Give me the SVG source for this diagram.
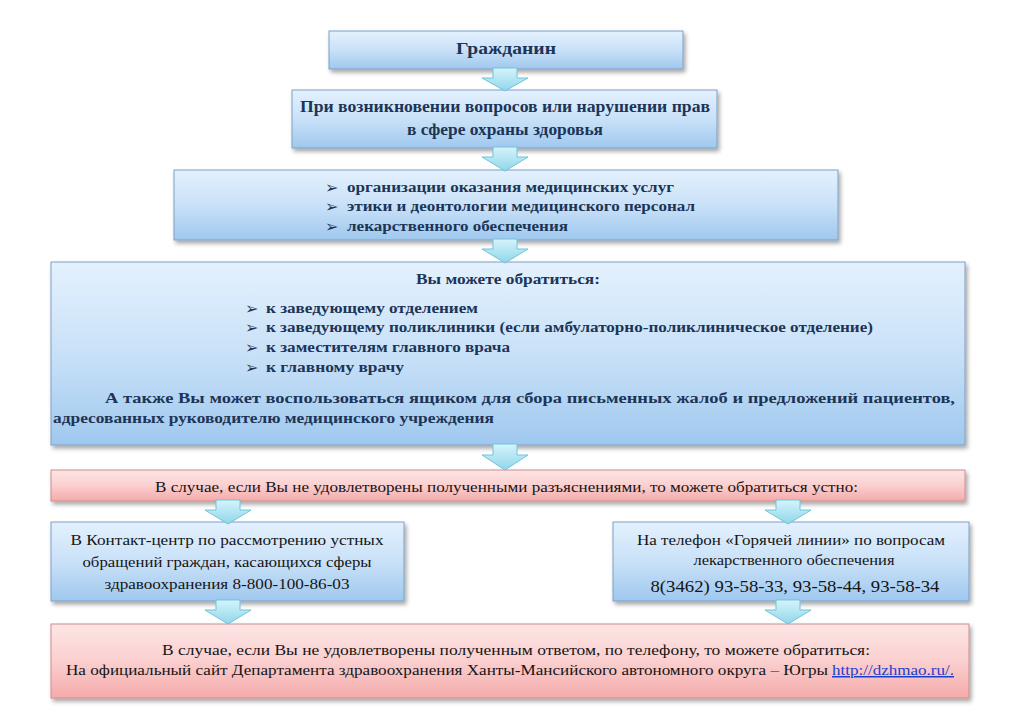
<svg xmlns="http://www.w3.org/2000/svg" width="1024" height="724" viewBox="0 0 1024 724">
<defs>
<linearGradient id="gBlue" x1="0" y1="0" x2="0" y2="1">
<stop offset="0" stop-color="#e4f1fd"/>
<stop offset="0.5" stop-color="#c9e1f8"/>
<stop offset="1" stop-color="#9fc8ee"/>
</linearGradient>
<linearGradient id="gPink" x1="0" y1="0" x2="0" y2="1">
<stop offset="0" stop-color="#fde6e6"/>
<stop offset="0.5" stop-color="#fbcfcf"/>
<stop offset="1" stop-color="#f4aaaa"/>
</linearGradient>
<linearGradient id="gArrow" x1="0" y1="0" x2="0" y2="1">
<stop offset="0" stop-color="#d6f4fb"/>
<stop offset="1" stop-color="#8fd6ea"/>
</linearGradient>
<filter id="sh" x="-5%" y="-10%" width="110%" height="130%">
<feDropShadow dx="2" dy="3" stdDeviation="2" flood-color="#000" flood-opacity="0.35"/>
</filter>
</defs>
<style>
.blue{fill:url(#gBlue);stroke:#7d9fc6;stroke-width:1;filter:url(#sh)}
.pink{fill:url(#gPink);stroke:#cf8c8c;stroke-width:1;filter:url(#sh)}
.arr{fill:url(#gArrow);stroke:#70c3dc;stroke-width:1}
.b{font-weight:bold;fill:#1c3557}
.n{fill:#151515}
.bl{fill:#1c3557;font-family:'DejaVu Sans',sans-serif;font-size:16px}
.lnk{fill:#1a3fd0;text-decoration:underline}
</style>
<rect width="1024" height="724" fill="#ffffff"/>
<g font-family="Liberation Serif, Times New Roman, serif">

<g id="node-citizen">
<rect class="blue" x="329" y="31" width="354" height="38"/>
<text class="b" x="506" y="54" font-size="17" text-anchor="middle" textLength="100" lengthAdjust="spacingAndGlyphs">Гражданин</text>
</g>

<g id="node-questions">
<rect class="blue" x="292" y="90" width="425" height="58"/>
<text class="b" x="505" y="112" font-size="16" text-anchor="middle" textLength="410" lengthAdjust="spacingAndGlyphs">При возникновении вопросов или нарушении прав</text>
<text class="b" x="505" y="135" font-size="16" text-anchor="middle" textLength="196" lengthAdjust="spacingAndGlyphs">в сфере охраны здоровья</text>
</g>

<g id="node-topics">
<rect class="blue" x="174" y="170" width="664" height="70"/>
<text class="bl" x="325" y="193">➢</text>
<text class="b" x="347" y="192" font-size="15" textLength="327" lengthAdjust="spacingAndGlyphs">организации оказания медицинских услуг</text>
<text class="bl" x="325" y="212">➢</text>
<text class="b" x="347" y="211" font-size="15" textLength="348" lengthAdjust="spacingAndGlyphs">этики и деонтологии медицинского персонал</text>
<text class="bl" x="325" y="232">➢</text>
<text class="b" x="347" y="231" font-size="15" textLength="221" lengthAdjust="spacingAndGlyphs">лекарственного обеспечения</text>
</g>

<g id="node-contact">
<rect class="blue" x="51" y="262" width="914" height="183"/>
<text class="b" x="416" y="284" font-size="15" textLength="184" lengthAdjust="spacingAndGlyphs">Вы можете обратиться:</text>
<text class="bl" x="245" y="314">➢</text>
<text class="b" x="266" y="313" font-size="15" textLength="212" lengthAdjust="spacingAndGlyphs">к заведующему отделением</text>
<text class="bl" x="245" y="333">➢</text>
<text class="b" x="266" y="332" font-size="15" textLength="607" lengthAdjust="spacingAndGlyphs">к заведующему поликлиники (если амбулаторно-поликлиническое отделение)</text>
<text class="bl" x="245" y="353">➢</text>
<text class="b" x="266" y="352" font-size="15" textLength="244" lengthAdjust="spacingAndGlyphs">к заместителям главного врача</text>
<text class="bl" x="245" y="373">➢</text>
<text class="b" x="266" y="372" font-size="15" textLength="138" lengthAdjust="spacingAndGlyphs">к главному врачу</text>
<text class="b" x="105" y="403" font-size="15" textLength="850" lengthAdjust="spacingAndGlyphs">А также Вы может воспользоваться ящиком для сбора письменных жалоб и предложений пациентов,</text>
<text class="b" x="53" y="423" font-size="15" textLength="441" lengthAdjust="spacingAndGlyphs">адресованных руководителю медицинского учреждения</text>
</g>

<g id="node-oral">
<rect class="pink" x="51" y="470" width="914" height="31"/>
<text class="n" x="155" y="492" font-size="15" textLength="703" lengthAdjust="spacingAndGlyphs">В случае, если Вы не удовлетворены полученными разъяснениями, то можете обратиться устно:</text>
</g>

<g id="node-callcenter">
<rect class="blue" x="51" y="522" width="353" height="79"/>
<text class="n" x="227" y="545" font-size="15" text-anchor="middle" textLength="313" lengthAdjust="spacingAndGlyphs">В Контакт-центр по рассмотрению устных</text>
<text class="n" x="227" y="567" font-size="15" text-anchor="middle" textLength="289" lengthAdjust="spacingAndGlyphs">обращений граждан, касающихся сферы</text>
<text class="n" x="227" y="589" font-size="15" text-anchor="middle" textLength="245" lengthAdjust="spacingAndGlyphs">здравоохранения 8-800-100-86-03</text>
</g>

<g id="node-hotline">
<rect class="blue" x="613" y="522" width="356" height="79"/>
<text class="n" x="791" y="545" font-size="15" text-anchor="middle" textLength="308" lengthAdjust="spacingAndGlyphs">На телефон «Горячей линии» по вопросам</text>
<text class="n" x="794" y="565" font-size="15" text-anchor="middle" textLength="201" lengthAdjust="spacingAndGlyphs">лекарственного обеспечения</text>
<text class="n" x="795" y="592" font-size="17" text-anchor="middle" textLength="289" lengthAdjust="spacingAndGlyphs">8(3462) 93-58-33, 93-58-44, 93-58-34</text>
</g>

<g id="node-website">
<rect class="pink" x="51" y="624" width="918" height="74"/>
<text class="n" x="162" y="655" font-size="15" textLength="708" lengthAdjust="spacingAndGlyphs">В случае, если Вы не удовлетворены полученным ответом, по телефону, то можете обратиться:</text>
<text class="n" x="66" y="675" font-size="15" textLength="762" lengthAdjust="spacingAndGlyphs">На официальный сайт Департамента здравоохранения Ханты-Мансийского автономного округа – Югры</text>
<text class="lnk" x="832" y="675" font-size="15" textLength="122" lengthAdjust="spacingAndGlyphs">http://dzhmao.ru/.</text>
</g>
</g>

<g id="connectors">
<path class="arr" d="M493,68 h24 v10 h11 l-23,13 l-23,-13 h11 z"/>
<path class="arr" d="M493,147 h24 v10 h11 l-23,14 l-23,-14 h11 z"/>
<path class="arr" d="M493,239 h24 v10 h11 l-23,14 l-23,-14 h11 z"/>
<path class="arr" d="M493,444 h24 v11 h11 l-23,15 l-23,-15 h11 z"/>
<path class="arr" d="M216,500 h24 v10 h11 l-23,14 l-23,-14 h11 z"/>
<path class="arr" d="M776,500 h24 v10 h11 l-23,14 l-23,-14 h11 z"/>
<path class="arr" d="M216,600 h24 v10 h11 l-23,14 l-23,-14 h11 z"/>
<path class="arr" d="M776,600 h24 v10 h11 l-23,14 l-23,-14 h11 z"/>
</g>
</svg>
